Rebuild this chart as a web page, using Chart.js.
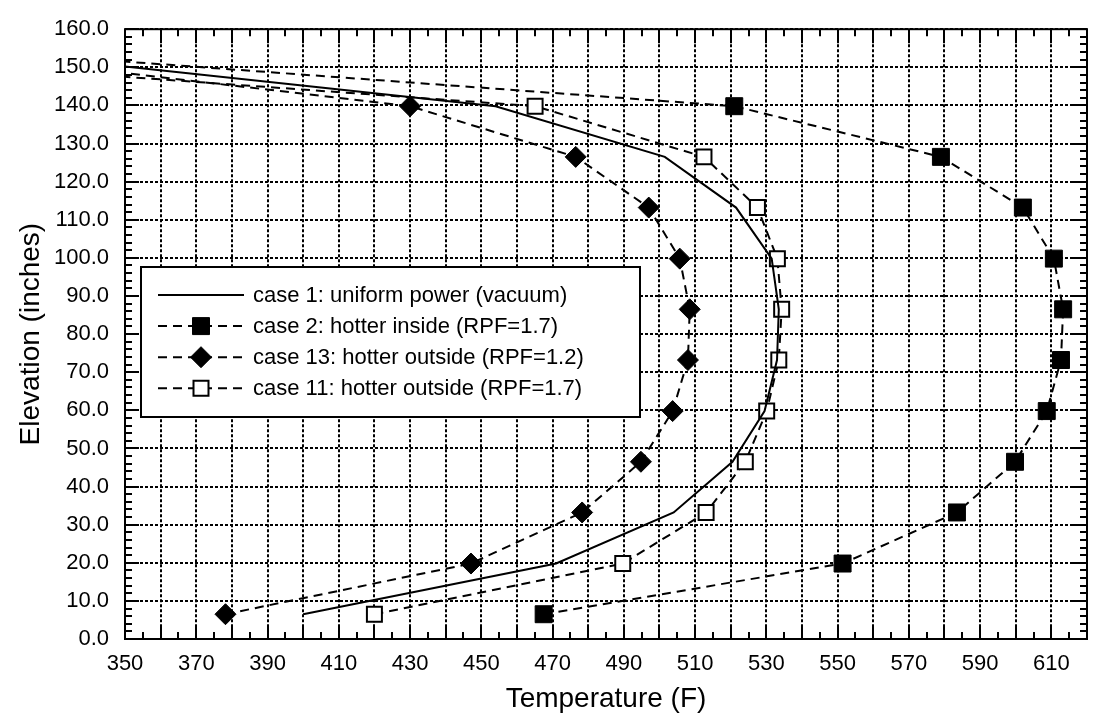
<!DOCTYPE html>
<html>
<head>
<meta charset="utf-8">
<script src="https://cdn.jsdelivr.net/npm/chart.js@4.4.0/dist/chart.umd.min.js"></script>
<style>
html,body{margin:0;padding:0;background:#fff;}
#wrap{width:1100px;height:716px;}
</style>
</head>
<body>
<div id="wrap"><canvas id="c" width="1100" height="716"></canvas></div>
<script>
// ---- data ----
const seriesLabels = [
  "case 1: uniform power (vacuum)",
  "case 2: hotter inside (RPF=1.7)",
  "case 13: hotter outside (RPF=1.2)",
  "case 11: hotter outside (RPF=1.7)"
];
// elevations (inches) of the plotted nodes, bottom to top
const elevations = [6.5, 19.8, 33.2, 46.5, 59.8, 73.2, 86.5, 99.8, 113.2, 126.5, 139.8];
// temperatures (F) at those elevations
const case1Temp  = [400.0, 471.0, 504.0, 520.5, 529.5, 533.0, 533.5, 531.5, 521.5, 501.5, 454.0];
const case2Temp  = [467.5, 551.4, 583.5, 599.8, 608.7, 612.7, 613.3, 610.7, 602.0, 579.0, 521.0];
const case13Temp = [378.2, 447.1, 478.3, 494.8, 503.7, 508.0, 508.5, 505.7, 497.0, 476.5, 430.0];
const case11Temp = [420.0, 489.7, 513.1, 524.1, 530.1, 533.5, 534.3, 533.1, 527.5, 512.5, 465.1];
// where each curve leaves the plot at the left edge (T = 350 F)
const edgeTemp = 350;
const edgeElev = [150.2, 151.5, 148.5, 147.5];
// axis ticks
const xTickLabels = [350, 370, 390, 410, 430, 450, 470, 490, 510, 530, 550, 570, 590, 610];
const yTickLabels = [0, 10, 20, 30, 40, 50, 60, 70, 80, 90, 100, 110, 120, 130, 140, 150, 160];

const FONT = '"Liberation Sans", Arial, Helvetica, sans-serif';

function pts(temps, top) {
  const p = temps.map((t, i) => ({x: t, y: elevations[i]}));
  p.push({x: edgeTemp, y: top});
  return p;
}
function radii(r) {
  return elevations.map(() => r).concat([0]);
}

const DASH = [9, 6];
const datasets = [
  {label: seriesLabels[0], data: pts(case1Temp, edgeElev[0]), borderColor: '#000', borderWidth: 2,
   pointRadius: 0, pointHoverRadius: 0, mk: null},
  {label: seriesLabels[1], data: pts(case2Temp, edgeElev[1]), borderColor: '#000', borderWidth: 2, borderDash: DASH,
   pointStyle: 'rect', pointRadius: radii(12), pointBackgroundColor: '#000', pointBorderColor: '#000', pointBorderWidth: 1,
   mk: {style: 'rect', r: 12, fill: '#000', bw: 1}},
  {label: seriesLabels[2], data: pts(case13Temp, edgeElev[2]), borderColor: '#000', borderWidth: 2, borderDash: DASH,
   pointStyle: 'rectRot', pointRadius: radii(10.5), pointBackgroundColor: '#000', pointBorderColor: '#000', pointBorderWidth: 1,
   mk: {style: 'rectRot', r: 10.5, fill: '#000', bw: 1}},
  {label: seriesLabels[3], data: pts(case11Temp, edgeElev[3]), borderColor: '#000', borderWidth: 2, borderDash: DASH,
   pointStyle: 'rect', pointRadius: radii(10.6), pointBackgroundColor: '#fff', pointBorderColor: '#000', pointBorderWidth: 2,
   mk: {style: 'rect', r: 10.6, fill: '#fff', bw: 2}}
];

function drawMarker(ctx, mk, x, y) {
  ctx.save();
  ctx.fillStyle = mk.fill; ctx.strokeStyle = '#000'; ctx.lineWidth = mk.bw;
  ctx.setLineDash([]);
  ctx.beginPath();
  if (mk.style === 'rect') {
    const s = Math.SQRT1_2 * mk.r;
    ctx.rect(x - s, y - s, 2 * s, 2 * s);
  } else {
    ctx.moveTo(x, y - mk.r); ctx.lineTo(x + mk.r, y); ctx.lineTo(x, y + mk.r); ctx.lineTo(x - mk.r, y); ctx.closePath();
  }
  ctx.fill();
  if (mk.bw > 0) ctx.stroke();
  ctx.restore();
}

// inward edge ticks + frame
const framePlugin = {
  id: 'frame',
  beforeDatasetsDraw(chart) {
    const ctx = chart.ctx, a = chart.chartArea, xs = chart.scales.x, ys = chart.scales.y;
    ctx.save();
    ctx.strokeStyle = '#000'; ctx.lineWidth = 2; ctx.setLineDash([]);
    ctx.beginPath();
    for (let v = xs.min; v <= xs.max + 1e-6; v += 5) {
      const px = Math.round(xs.getPixelForValue(v));
      const len = ((v - xs.min) % 10 === 0) ? 14 : 7;
      ctx.moveTo(px, a.bottom); ctx.lineTo(px, a.bottom - len);
      ctx.moveTo(px, a.top); ctx.lineTo(px, a.top + len);
    }
    for (let v = ys.min; v <= ys.max + 1e-6; v += 2) {
      const py = Math.round(ys.getPixelForValue(v));
      const len = (v % 10 === 0) ? 14 : 7;
      ctx.moveTo(a.left, py); ctx.lineTo(a.left + len, py);
      ctx.moveTo(a.right, py); ctx.lineTo(a.right - len, py);
    }
    ctx.stroke();
    ctx.strokeRect(a.left, a.top, a.right - a.left, a.bottom - a.top);
    ctx.restore();
  }
};

// boxed legend inside the plot
const legendPlugin = {
  id: 'boxLegend',
  afterDraw(chart) {
    const ctx = chart.ctx;
    const L = 141, T = 267, W = 499, H = 150;
    ctx.save();
    ctx.fillStyle = '#fff'; ctx.fillRect(L, T, W, H);
    ctx.strokeStyle = '#000'; ctx.lineWidth = 2; ctx.setLineDash([]);
    ctx.strokeRect(L, T, W, H);
    chart.data.datasets.forEach((ds, i) => {
      const cy = 295 + i * 31.1;
      ctx.beginPath();
      ctx.setLineDash(ds.borderDash || []);
      ctx.lineWidth = 2; ctx.strokeStyle = '#000';
      ctx.moveTo(158, cy); ctx.lineTo(244, cy); ctx.stroke();
      ctx.setLineDash([]);
      if (ds.mk) drawMarker(ctx, ds.mk, 201, cy);
      ctx.fillStyle = '#000';
      ctx.font = '22px ' + FONT;
      ctx.textBaseline = 'middle'; ctx.textAlign = 'left';
      ctx.fillText(ds.label, 253, cy + 1);
    });
    ctx.restore();
  }
};

new Chart(document.getElementById('c'), {
  type: 'line',
  data: {datasets: datasets},
  options: {
    responsive: false,
    animation: false,
    devicePixelRatio: 1,
    layout: {padding: {left: 0, right: 3, top: 20, bottom: 0}},
    plugins: {legend: {display: false}, tooltip: {enabled: false}},
    elements: {line: {tension: 0}},
    scales: {
      x: {
        type: 'linear', min: 350, max: 620,
        afterBuildTicks(s) { s.ticks = []; for (let v = 350; v <= 620; v += 10) s.ticks.push({value: v}); },
        afterFit(s) { s.height = 77; },
        ticks: {
          autoSkip: false, maxRotation: 0, padding: 12, color: '#000',
          font: {family: FONT, size: 22},
          callback: (v) => xTickLabels.includes(v) ? String(v) : ''
        },
        grid: {color: '#000', lineWidth: 2, drawTicks: false},
        border: {display: false, dash: [3, 2]},
        title: {display: true, text: 'Temperature (F)', color: '#000', font: {family: FONT, size: 28}, padding: {top: 0, bottom: 0}}
      },
      y: {
        type: 'linear', min: 0, max: 160,
        afterBuildTicks(s) { s.ticks = yTickLabels.map(v => ({value: v})); },
        afterFit(s) { s.width = 125; },
        ticks: {
          autoSkip: false, padding: 16, color: '#000',
          font: {family: FONT, size: 22},
          callback: (v) => Number(v).toFixed(1)
        },
        grid: {color: '#000', lineWidth: 2, drawTicks: false},
        border: {display: false, dash: [3, 2]},
        title: {display: true, text: 'Elevation (inches)', color: '#000', font: {family: FONT, size: 28}, padding: {top: 14, bottom: 0}}
      }
    }
  },
  plugins: [framePlugin, legendPlugin]
});
</script>
</body>
</html>
